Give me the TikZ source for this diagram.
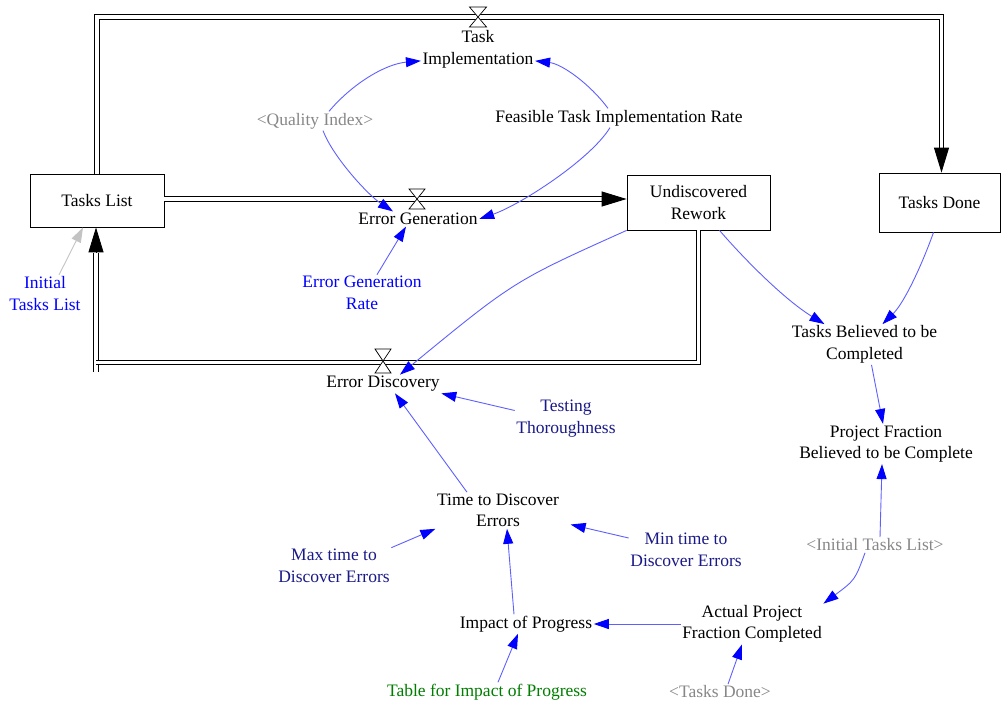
\documentclass[tikz,border=0pt]{standalone}
\usepackage{fontspec}
\setmainfont{Liberation Serif}
\usetikzlibrary{arrows.meta,calc}

\definecolor{linkblue}{RGB}{95,95,255}
\definecolor{headblue}{RGB}{0,0,255}
\definecolor{navytext}{RGB}{25,25,135}
\definecolor{tablegreen}{RGB}{0,125,0}
\definecolor{shadowgray}{RGB}{135,135,135}
\definecolor{initgray}{RGB}{195,195,195}

\begin{document}
\begin{tikzpicture}[x=1pt,y=-1pt,
  every node/.style={font=\fontsize{17.5}{21.5}\selectfont, align=center, inner sep=1.5pt},
  stock/.style={draw=black, line width=0.8pt, fill=white, inner sep=0pt},
  pipe/.style={draw=black, line width=0.9pt, double=white, double distance=3.6pt},
  pipetip/.style={draw=black, line width=0.9pt, -{Triangle[length=25pt,width=15pt]}},
  valve/.style={draw=black, fill=white, line width=0.7pt, line join=miter},
  link/.style={draw=linkblue, line width=0.9pt, -{Triangle[length=15pt,width=10pt,color=headblue]}},
  shadowlink/.style={draw=initgray, line width=0.9pt, -{Triangle[length=15pt,width=10pt,color=initgray]}},
  auxtext/.style={text=black},
  consttext/.style={text=navytext},
  inittext/.style={text=headblue},
  shadowtext/.style={text=shadowgray},
  tabletext/.style={text=tablegreen}
]
\useasboundingbox (0,0) rectangle (1001,704);

% ---------- stocks ----------
\node[stock, minimum width=134pt, minimum height=53pt] (tl) at (97,200.5) {Tasks List};
\node[stock, minimum width=143pt, minimum height=55pt] (ur) at (698.5,202.5) {Undiscovered\\Rework};
\node[stock, minimum width=121pt, minimum height=59pt] (td) at (939.5,202.5) {Tasks Done};

% ---------- pipe routing points ----------
\coordinate (vti) at (478,17);
\coordinate (veg) at (417,199);
\coordinate (ved) at (383,361);
\coordinate (tdin) at (941.5,148);
\coordinate (urin) at (602,199);
\coordinate (edleft) at (96,362.5);
\coordinate (edstub) at (96,372);
\coordinate (tlin) at (96,253);

% Task Implementation: Tasks List -> Tasks Done
\draw[pipe] (tl.north) -- (tl.north |- vti) -- (tdin |- vti) -- (tdin);
\draw[pipetip] (tdin) -- (td.north -| tdin);

% Error Generation: Tasks List -> Undiscovered Rework
\draw[pipe] (tl.east |- veg) -- (urin);
\draw[pipetip] (urin) -- (ur.west |- urin);

% Error Discovery: Undiscovered Rework -> Tasks List
\draw[pipe] (edstub) -- (tlin);
\draw[pipe] (ur.south) -- (ur.south |- edleft) -- (edleft);
\draw[pipetip] (tlin) -- (tl.south -| tlin);

% ---------- valves ----------
\draw[valve] ($(vti)+(-8.5,-10)$) -- ($(vti)+(8.5,-10)$) -- ($(vti)+(-8.5,10)$) -- ($(vti)+(8.5,10)$) -- cycle;
\draw[valve] ($(veg)+(-8,-10)$) -- ($(veg)+(8,-10)$) -- ($(veg)+(-8,10)$) -- ($(veg)+(8,10)$) -- cycle;
\draw[valve] ($(ved)+(-8,-12)$) -- ($(ved)+(8,-12)$) -- ($(ved)+(-8,12)$) -- ($(ved)+(8,12)$) -- cycle;

% ---------- rate labels ----------
\node[auxtext] (ti) at (478,49.5) {Task\\Implementation};
\node[auxtext] (eg) at (418,219) {Error Generation};
\node[auxtext] (ed) at (383,384) {Error Discovery};

% ---------- auxiliaries and constants ----------
\node[shadowtext] (qi) at (315,121) {<Quality Index>};
\node[auxtext] (ftir) at (619,118) {Feasible Task Implementation Rate};
\node[inittext] (egr) at (362,293) {Error Generation\\Rate};
\node[inittext] (itl) at (45,293.5) {Initial\\Tasks List};
\node[auxtext] (tbc) at (864.5,344.5) {Tasks Believed to be\\Completed};
\node[auxtext] (pfb) at (886,444) {Project Fraction\\Believed to be Complete};
\node[consttext] (tt) at (566,418.5) {Testing\\Thoroughness};
\node[auxtext] (ttd) at (498,510.5) {Time to Discover\\Errors};
\node[consttext] (maxt) at (334,566) {Max time to\\Discover Errors};
\node[consttext] (mint) at (686,550) {Min time to\\Discover Errors};
\node[shadowtext] (itls) at (875,545) {<Initial Tasks List>};
\node[auxtext] (ip) at (526,624) {Impact of Progress};
\node[auxtext] (apfc) at (752,624) {Actual Project\\Fraction Completed};
\node[tabletext] (tip) at (487,692) {Table for Impact of Progress};
\node[shadowtext] (tds) at (720,692) {<Tasks Done>};

% ---------- information links ----------
\draw[link] ([xshift=14pt]qi.north) .. controls (352,84) and (385,64) .. ($(ti.south west)+(0,-9)$);
\draw[link] ([xshift=8pt]qi.south) .. controls (333,157) and (368,195) .. ([xshift=-25pt]eg.north);
\draw[link] ([xshift=-11pt]ftir.north) .. controls (590,84) and (562,64) .. ($(ti.south east)+(0,-9)$);
\draw[link] ([xshift=-9pt]ftir.south) .. controls (590,160) and (520,205) .. (eg.east);
\draw[link] ([xshift=15pt]egr.north) -- ([xshift=-12pt]eg.south);
\draw[shadowlink] ([xshift=14pt]itl.north) -- ([xshift=-14pt]tl.south);
\draw[link] (ur.south west) .. controls (514,281) .. ([xshift=17pt]ed.north);
\draw[link] ([xshift=21pt]ur.south) .. controls (745,260) and (785,300) .. ([xshift=-40pt]tbc.north);
\draw[link] ([xshift=-6pt]td.south) .. controls (923,262) and (905,302) .. ([xshift=18pt]tbc.north);
\draw[link] ([xshift=7pt]tbc.south) -- ([xshift=-3pt]pfb.north);
\draw[link] ($(tt.west)+(0,-8)$) -- (ed.south east);
\draw[link] ([xshift=-31pt]ttd.north) -- ([xshift=12pt]ed.south);
\draw[link] (maxt.north east) -- (ttd.south west);
\draw[link] ($(mint.west)+(0,-12)$) -- ($(ttd.east)+(10,14)$);
\draw[link] ([xshift=-12pt]ip.north) -- ([xshift=9pt]ttd.south);
\draw[link] (apfc.west) -- (ip.east);
\draw[link] ([xshift=11pt]tip.north) -- ([xshift=-8pt]ip.south);
\draw[link] ([xshift=8pt]tds.north) -- ([xshift=-10pt]apfc.south);
\draw[link] ([xshift=-10pt]itls.south) .. controls (855,580) .. (apfc.north east);
\draw[link] ([xshift=5pt]itls.north) -- ([xshift=-4pt]pfb.south);
\end{tikzpicture}
\end{document}
